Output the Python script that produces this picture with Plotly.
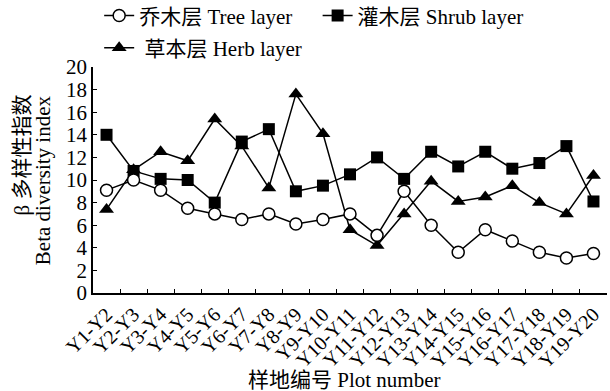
import plotly.graph_objects as go

# Plot pairs (consecutive sampling plots)
plots = ["Y1-Y2", "Y2-Y3", "Y3-Y4", "Y4-Y5", "Y5-Y6", "Y6-Y7", "Y7-Y8", "Y8-Y9",
         "Y9-Y10", "Y10-Y11", "Y11-Y12", "Y12-Y13", "Y13-Y14", "Y14-Y15",
         "Y15-Y16", "Y16-Y17", "Y17-Y18", "Y18-Y19", "Y19-Y20"]

# Beta diversity index per layer
tree = [9.1, 10.0, 9.1, 7.5, 7.0, 6.5, 7.0, 6.1, 6.5, 7.0, 5.1, 9.0, 6.0, 3.6,
        5.6, 4.6, 3.6, 3.1, 3.5]
shrub = [14.0, 10.8, 10.1, 10.0, 8.0, 13.4, 14.5, 9.0, 9.5, 10.5, 12.0, 10.1,
         12.5, 11.2, 12.5, 11.0, 11.5, 13.0, 8.1]
herb = [7.4, 10.9, 12.5, 11.7, 15.4, 13.0, 9.3, 17.6, 14.1, 5.6, 4.2, 7.0, 9.9,
        8.1, 8.5, 9.5, 8.0, 7.0, 10.4]

y_ticks = list(range(0, 21, 2))

FONT = "Liberation Serif, Times New Roman, Noto Sans CJK SC, serif"
FS = 21

fig = go.Figure()

# Herb drawn first so the shrub and tree markers sit above it
fig.add_trace(go.Scatter(
    x=plots, y=herb, mode="lines+markers", name="\u00a0草本层 Herb layer",
    line=dict(color="black", width=1.5),
    marker=dict(symbol="triangle-up", size=13, color="black"),
    legend="legend3",
))
fig.add_trace(go.Scatter(
    x=plots, y=shrub, mode="lines+markers", name="灌木层 Shrub layer",
    line=dict(color="black", width=1.5),
    marker=dict(symbol="square", size=12, color="black"),
    legend="legend2",
))
fig.add_trace(go.Scatter(
    x=plots, y=tree, mode="lines+markers", name="乔木层 Tree layer",
    line=dict(color="black", width=1.5),
    marker=dict(symbol="circle", size=12, color="white",
                line=dict(color="black", width=1.5)),
    legend="legend",
))

legend_common = dict(font=dict(family=FONT, size=FS, color="black"),
                     bgcolor="rgba(0,0,0,0)", xanchor="left", yanchor="middle",
                     orientation="h")

fig.update_layout(
    width=610, height=391,
    margin=dict(l=93, r=3, t=67, b=98, autoexpand=False),
    paper_bgcolor="white", plot_bgcolor="white",
    font=dict(family=FONT, size=FS, color="black"),
    showlegend=True,
    legend=dict(x=0.012, y=1.226, **legend_common),
    legend2=dict(x=0.437, y=1.226, **legend_common),
    legend3=dict(x=0.012, y=1.084, **legend_common),
    xaxis=dict(
        type="category", range=[-0.5, len(plots) - 0.5],
        tickmode="linear", tick0=0, dtick=1,
        tickson="boundaries", ticks="inside", ticklen=4, tickwidth=1.2,
        tickcolor="black", tickangle=-45,
        showline=True, linecolor="black", linewidth=1.5,
        showgrid=False, zeroline=False,
        tickfont=dict(family=FONT, size=20, color="black"),
    ),
    yaxis=dict(
        range=[0, 20], tickvals=y_ticks, ticks="inside", ticklen=4,
        tickwidth=1.2, tickcolor="black",
        showline=True, linecolor="black", linewidth=1.5,
        showgrid=False, zeroline=False,
        tickfont=dict(family=FONT, size=FS, color="black"),
    ),
    annotations=[
        dict(text="β 多样性指数", xref="paper", yref="paper",
             x=-0.138, y=0.885, xanchor="center", yanchor="top",
             textangle=-90, showarrow=False,
             font=dict(family=FONT, size=FS, color="black")),
        dict(text="Beta diversity index", xref="paper", yref="paper",
             x=-0.097, y=0.885, xanchor="center", yanchor="top",
             textangle=-90, showarrow=False,
             font=dict(family=FONT, size=FS, color="black")),
        dict(text="样地编号 Plot number", xref="paper", yref="paper",
             x=0.49, y=-0.385, xanchor="center", yanchor="middle",
             showarrow=False,
             font=dict(family=FONT, size=FS, color="black")),
    ],
)

fig.write_html("out.html")
